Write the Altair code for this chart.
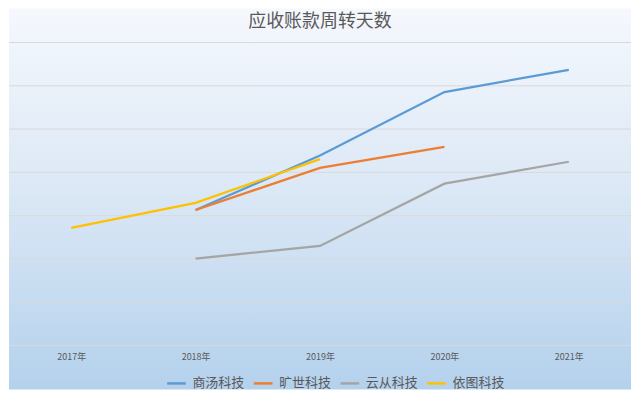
import altair as alt
import pandas as pd

title_text = "应收账款周转天数"
years = ["2017年", "2018年", "2019年", "2020年", "2021年"]
series = ["商汤科技", "旷世科技", "云从科技", "依图科技"]
shangtang = [None, 62.6, 87.8, 117.1, 127.4]
kuangshi = [None, 62.6, 82.1, 91.8, None]
yuncong = [None, 40.2, 46.0, 74.8, 84.9]
yitu = [54.4, 65.9, 86.1, None, None]
grid_values = [0, 20, 40, 60, 80, 100, 120, 140]
colors = ["#5B9BD5", "#ED7D31", "#A5A5A5", "#FFC000"]

rows = []
for name, vals in zip(series, [shangtang, kuangshi, yuncong, yitu]):
    for y, v in zip(years, vals):
        if v is not None:
            rows.append({"year": y, "company": name, "value": v})
df = pd.DataFrame(rows)

FONT = "Noto Sans CJK SC"
W, H = 624, 304

bg_df = pd.DataFrame({"x0": [0], "x1": [1], "y0": [0], "y1": [1]})
bg = alt.Chart(bg_df).mark_rect(
    color=alt.LinearGradient(
        gradient="linear",
        stops=[alt.GradientStop(color="#F5F8FD", offset=0),
               alt.GradientStop(color="#DDE9F6", offset=0.45),
               alt.GradientStop(color="#B4D1EC", offset=1)],
        x1=0, x2=0, y1=0, y2=1,
    )
).encode(
    x=alt.X("x0:Q", scale=alt.Scale(domain=[0, 1], range=[0, W]), axis=None),
    x2="x1:Q",
    y=alt.Y("y0:Q", scale=alt.Scale(domain=[0, 1], range=[-34, 348]), axis=None),
    y2="y1:Q",
)

title = alt.Chart(pd.DataFrame({"t": [title_text]})).mark_text(
    fontSize=18, font=FONT, color="#595959", align="center", baseline="middle"
).encode(text="t:N", x=alt.value(W / 2), y=alt.value(-21))

grid = alt.Chart(pd.DataFrame({"g": grid_values})).mark_rule(
    color="#D9D9D9", strokeWidth=1
).encode(y=alt.Y("g:Q", scale=alt.Scale(domain=[0, 140]), axis=None))

lines = alt.Chart(df).mark_line(strokeWidth=2.25).encode(
    x=alt.X("year:N", sort=years, scale=alt.Scale(domain=years),
            axis=alt.Axis(title=None, orient="bottom", labelAngle=0, ticks=False,
                          grid=False, domain=False, labelFontSize=9,
                          labelColor="#595959", labelFont=FONT, labelPadding=7,
                          zindex=1)),
    y=alt.Y("value:Q", scale=alt.Scale(domain=[0, 140]), axis=None),
    color=alt.Color("company:N", sort=series,
                    scale=alt.Scale(domain=series, range=colors),
                    legend=alt.Legend(title=None, orient="none", legendX=157, legendY=331,
                                      direction="horizontal", symbolType="stroke",
                                      symbolStrokeWidth=2.5, symbolSize=350,
                                      labelFontSize=13, labelColor="#595959",
                                      labelFont=FONT, columnPadding=3, labelOffset=5)),
    detail="company:N",
)

chart = alt.layer(bg, alt.layer(grid, lines), title).resolve_scale(
    x="independent", y="independent"
).properties(
    width=W, height=H, padding=0,
).configure_view(stroke=None)

chart.save("out.html", embed_options={"renderer": "svg", "actions": False})
